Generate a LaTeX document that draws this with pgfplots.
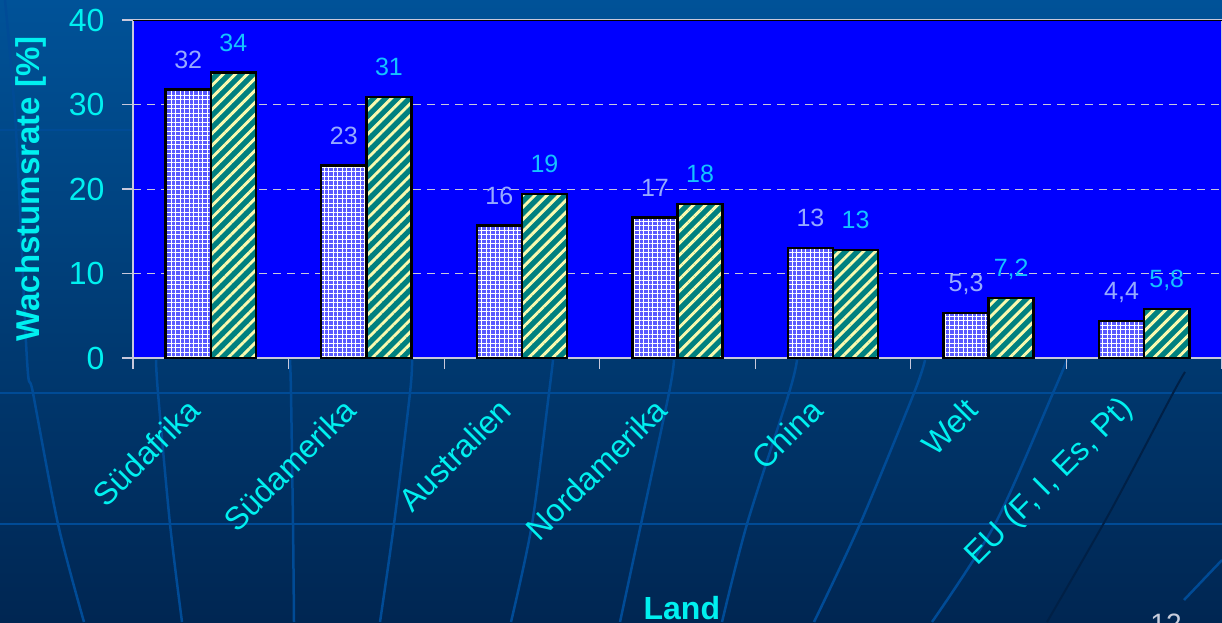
\documentclass[border=0pt]{standalone}
\usepackage{fontspec}
\setmainfont{Liberation Sans}
\usepackage{pgfplots}
\usepackage{pgfplotstable}
\pgfplotsset{compat=1.18}
\usetikzlibrary{patterns.meta}
\definecolor{bgtop}{RGB}{0,82,152}
\definecolor{bgbot}{RGB}{0,38,82}
\definecolor{globe}{RGB}{0,75,150}
\definecolor{globedark}{RGB}{0,32,70}
\definecolor{labcyan}{RGB}{0,240,240}
\definecolor{plotblue}{RGB}{0,0,255}
\definecolor{tealbar}{RGB}{0,128,128}
\definecolor{stripe}{RGB}{250,250,175}
\definecolor{lavbar}{RGB}{90,90,255}
\definecolor{labA}{RGB}{150,170,255}
\definecolor{labB}{RGB}{20,195,255}
\definecolor{axgray}{RGB}{200,200,220}
\definecolor{numgray}{RGB}{200,205,220}

\pgfplotstableread{
x y lab
0 31.8 32
1 22.8 23
2 15.7 16
3 16.6 17
4 13.0 13
5 5.3 5,3
6 4.4 4,4
}\serA
\pgfplotstableread{
x y lab
0 33.8 34
1 30.9 31
2 19.4 19
3 18.2 18
4 12.8 13
5 7.1 7,2
6 5.8 5,8
}\serB

\begin{document}
\begin{tikzpicture}
\begin{scope}[x=1pt,y=1pt]
\clip (0,0) rectangle (1222,622);
\shade[top color=bgtop, bottom color=bgbot] (0,0) rectangle (1222,622);
% decorative globe lines of the slide background
\begin{scope}[draw=globe, line width=2.5pt]
\draw (0,229) -- (1222,229);
\draw (0,98) -- (1222,98);
\draw (0,492) -- (140,492);
\draw plot[smooth] coordinates {(5,622) (16,492) (27,262) (33,229) (58,98) (84,0)};
\draw plot[smooth] coordinates {(156,262) (158,229) (170,98) (182,0)};
\draw plot[smooth] coordinates {(290,262) (291,229) (293,98) (294,0)};
\draw plot[smooth] coordinates {(412,262) (410,229) (394,98) (380,0)};
\draw plot[smooth] coordinates {(553,262) (549,229) (532,98) (511,0)};
\draw plot[smooth] coordinates {(674,262) (669,229) (641,98) (620,0)};
\draw plot[smooth] coordinates {(797,262) (789,229) (747,98) (722,0)};
\draw plot[smooth] coordinates {(925,262) (914,229) (860,98) (814,0)};
\draw plot[smooth] coordinates {(1067,262) (1053,229) (995,98) (932,0)};
\draw (1222,62) -- (1184,22);
\end{scope}
\draw[globedark, line width=2pt] plot[smooth] coordinates {(1185,250) (1172,227) (1110,110) (1047,0)};
\node[anchor=base, text=numgray, font=\fontsize{28}{34}\selectfont] at (1166,-11) {12};
\end{scope}

\begin{axis}[
  at={(133pt,264pt)}, anchor=south west,
  scale only axis, width=1089pt, height=338pt,
  ybar, bar width=0.29,
  xmin=-0.5, xmax=6.5, ymin=0, ymax=40,
  xtick={0,1,2,3,4,5,6},
  xticklabels={Südafrika,Südamerika,Australien,Nordamerika,China,Welt,{EU (F, I, Es, Pt)}},
  minor xtick={-0.5,0.5,1.5,2.5,3.5,4.5,5.5,6.5},
  ytick={0,10,20,30,40},
  minor ytick={0,10,20,30,40},
  tick pos=left,
  tick align=outside, major tick length=0pt, minor tick length=11pt,
  tick style={axgray, line width=1.2pt},
  axis line style={axgray, line width=1.5pt},
  axis background/.style={fill=plotblue},
  ymajorgrids=true,
  major grid style={axgray, dash pattern=on 8pt off 6pt, line width=1pt},
  /pgf/number format/assume math mode=true,
  tick label style={text=labcyan},
  yticklabel style={font=\fontsize{32}{38}\selectfont, anchor=east, xshift=-25pt},
  xticklabel style={font=\fontsize{32}{38}\selectfont, xshift=-14pt, yshift=-44pt, rotate=45, anchor=east},
  ylabel={Wachstumsrate [\%]},
  ylabel style={at={(axis description cs:-0.0937,0.5)}, anchor=center, font=\bfseries\fontsize{33}{40}\selectfont, text=labcyan},
  xlabel={Land},
  xlabel style={at={(axis description cs:0.504,-0.775)}, anchor=base, font=\bfseries\fontsize{32}{38}\selectfont, text=labcyan},
  every node near coord/.append style={font=\fontsize{25}{30}\selectfont, anchor=south, inner sep=0pt, text depth=0pt, yshift=20pt},
]
% series 1: solid base, then white grid texture on top
\addplot[bar shift=-0.145, fill=lavbar, draw=black, line width=2.5pt,
  nodes near coords, point meta=explicit symbolic,
  every node near coord/.append style={text=labA}]
  table[x=x, y=y, meta=lab] {\serA};
\addplot[bar shift=-0.145, draw=none, pattern={Lines[angle=0,distance=4.5pt,line width=1pt]}, pattern color=white]
  table[x=x, y=y] {\serA};
\addplot[bar shift=-0.145, draw=black, line width=2.5pt, pattern={Lines[angle=90,distance=4.5pt,line width=1pt]}, pattern color=white]
  table[x=x, y=y] {\serA};
% series 2: teal base, then light yellow diagonal stripes on top
\addplot[bar shift=0.145, fill=tealbar, draw=black, line width=2.5pt,
  nodes near coords, point meta=explicit symbolic,
  every node near coord/.append style={text=labB}]
  table[x=x, y=y, meta=lab] {\serB};
\addplot[bar shift=0.145, draw=black, line width=2.5pt, pattern={Lines[angle=45,distance=8.5pt,line width=2.9pt]}, pattern color=stripe]
  table[x=x, y=y] {\serB};
\draw[black, line width=1.5pt] (rel axis cs:0,1) -- (rel axis cs:1,1);
\end{axis}
\pgfresetboundingbox
\useasboundingbox (0,0) rectangle (1222pt,622pt);
\end{tikzpicture}
\end{document}
